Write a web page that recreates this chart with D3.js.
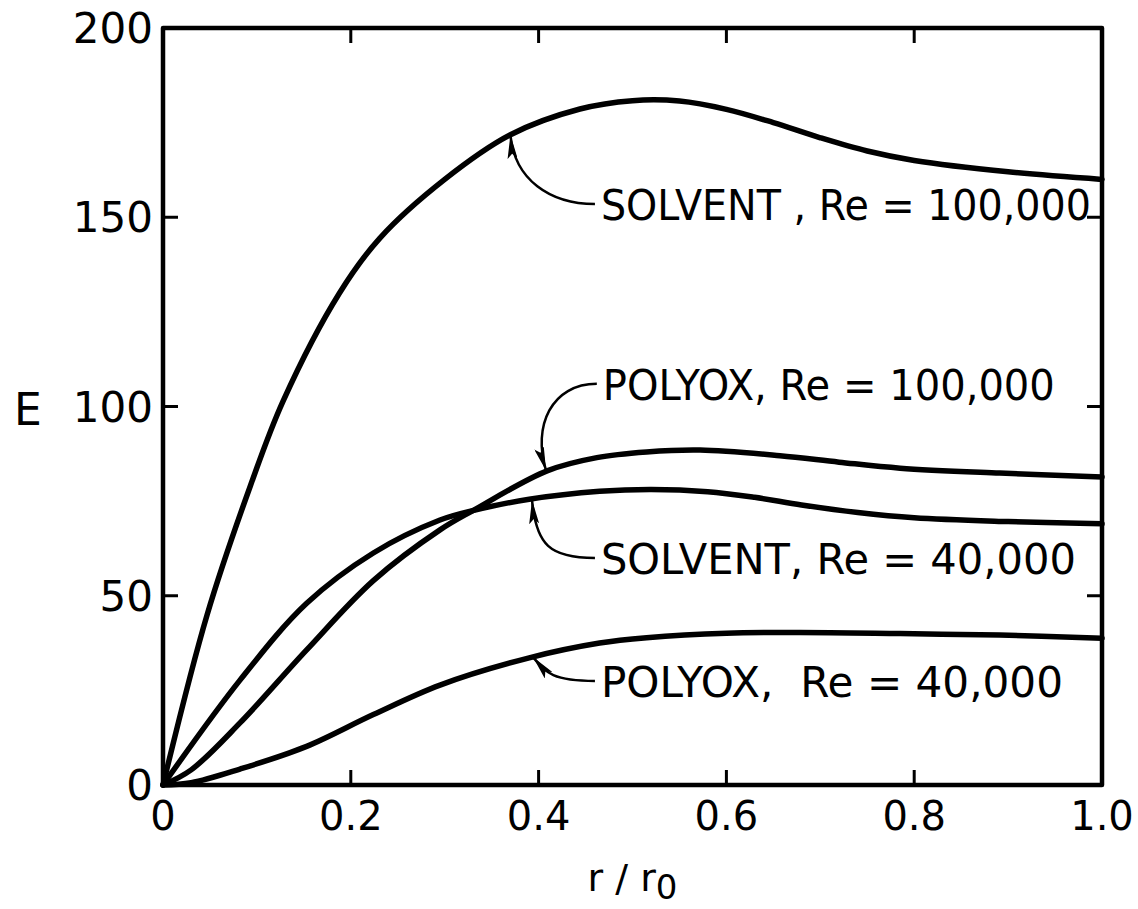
<!DOCTYPE html>
<html>
<head>
<meta charset="utf-8">
<script src="https://cdn.jsdelivr.net/npm/d3@7"></script>
<style>
  html, body { margin: 0; padding: 0; background: #fff; }
  svg { display: block; }
</style>
</head>
<body>
<div id="chart"></div>
<script>
// Data: E versus r/r0
const solvent100kR = [0, 0.047, 0.093, 0.128, 0.188, 0.231, 0.3, 0.37, 0.444, 0.5, 0.55, 0.6, 0.65, 0.7, 0.75, 0.8, 0.9, 1.0];
const solvent100kE = [0, 45, 79, 101.5, 130, 144.5, 160, 171.8, 178.6, 180.8, 180.7, 178.5, 175, 171, 167.5, 165, 162, 160];

const polyox100kR = [0, 0.03, 0.082, 0.153, 0.224, 0.295, 0.33, 0.409, 0.462, 0.515, 0.572, 0.657, 0.72, 0.785, 0.891, 1.0];
const polyox100kE = [0, 4, 16.4, 35.7, 54, 67.4, 72.5, 83, 86.5, 88, 88.5, 87, 85.3, 83.7, 82.4, 81.4];

const solvent40kR = [0, 0.082, 0.153, 0.224, 0.295, 0.33, 0.39, 0.465, 0.52, 0.58, 0.63, 0.68, 0.74, 0.8, 0.9, 1.0];
const solvent40kE = [0, 27.7, 48, 61.3, 70, 72.5, 75.5, 77.6, 78.1, 77.5, 76, 74, 72, 70.6, 69.6, 69];

const polyox40kR = [0, 0.03, 0.082, 0.153, 0.224, 0.295, 0.39, 0.465, 0.515, 0.6, 0.678, 0.785, 0.891, 1.0];
const polyox40kE = [0, 0.6, 4.2, 10.2, 18.6, 26.4, 33.6, 37.5, 38.9, 40.1, 40.3, 40, 39.6, 38.8];

const xTicks = [0, 0.2, 0.4, 0.6, 0.8, 1.0];
const xTickLabels = ['0', '0.2', '0.4', '0.6', '0.8', '1.0'];
const yTicks = [0, 50, 100, 150, 200];
const yTickLabels = ['0', '50', '100', '150', '200'];

// Annotation labels: text, label start (r, E), arrow tip (r, E)
const labelTexts = ['SOLVENT , Re = 100,000', 'POLYOX, Re = 100,000', 'SOLVENT, Re = 40,000', 'POLYOX,  Re = 40,000'];
const labelStartR = [0.46, 0.462, 0.46, 0.46];
const labelStartE = [153.5, 106, 60, 27.5];
const arrowTipR = [0.37, 0.408, 0.393, 0.394];
const arrowTipE = [171.8, 83, 75.3, 33.8];

const width = 1138;
const height = 909;
const margin = { top: 28, right: 36, bottom: 124, left: 163 };
const fontFamily = '"DejaVu Sans", sans-serif';

const svg = d3.select('#chart')
    .append('svg')
    .attr('width', width)
    .attr('height', height);

svg.append('rect')
    .attr('width', width)
    .attr('height', height)
    .attr('fill', '#fff');

const x = d3.scaleLinear().domain([0, 1]).range([margin.left, width - margin.right]);
const y = d3.scaleLinear().domain([0, 200]).range([height - margin.bottom, margin.top]);

// arrow marker
svg.append('defs').append('marker')
    .attr('id', 'arrow')
    .attr('viewBox', '0 0 24 10')
    .attr('refX', 24)
    .attr('refY', 5)
    .attr('markerWidth', 24)
    .attr('markerHeight', 10)
    .attr('markerUnits', 'userSpaceOnUse')
    .attr('orient', 'auto')
    .append('path')
    .attr('d', 'M0,0 L24,5 L0,10 L5,5 Z')
    .attr('fill', '#000');

// curves
const series = [
    { r: solvent100kR, e: solvent100kE },
    { r: polyox100kR, e: polyox100kE },
    { r: solvent40kR, e: solvent40kE },
    { r: polyox40kR, e: polyox40kE }
];

const line = d3.line()
    .x(d => x(d[0]))
    .y(d => y(d[1]))
    .curve(d3.curveCatmullRom.alpha(0.5));

svg.append('g')
    .selectAll('path')
    .data(series)
    .enter()
    .append('path')
    .attr('d', s => line(s.r.map((r, i) => [r, s.e[i]])))
    .attr('fill', 'none')
    .attr('stroke', '#000')
    .attr('stroke-width', 5.5)
    .attr('stroke-linecap', 'round');

// frame
const x0 = x(0), x1 = x(1), y0 = y(0), y1 = y(200);
svg.append('rect')
    .attr('x', x0)
    .attr('y', y1)
    .attr('width', x1 - x0)
    .attr('height', y0 - y1)
    .attr('fill', 'none')
    .attr('stroke', '#000')
    .attr('stroke-width', 4.5)
    .attr('stroke-linejoin', 'round');

// inward ticks
const tickLen = 15;
const ticks = svg.append('g').attr('stroke', '#000').attr('stroke-width', 3);
xTicks.slice(1, -1).forEach(t => {
    ticks.append('line').attr('x1', x(t)).attr('x2', x(t)).attr('y1', y0).attr('y2', y0 - tickLen);
    ticks.append('line').attr('x1', x(t)).attr('x2', x(t)).attr('y1', y1).attr('y2', y1 + tickLen);
});
yTicks.slice(1, -1).forEach(t => {
    ticks.append('line').attr('x1', x0).attr('x2', x0 + tickLen).attr('y1', y(t)).attr('y2', y(t));
    ticks.append('line').attr('x1', x1).attr('x2', x1 - tickLen).attr('y1', y(t)).attr('y2', y(t));
});

// tick labels
svg.append('g')
    .selectAll('text')
    .data(xTicks)
    .enter()
    .append('text')
    .attr('x', d => x(d))
    .attr('y', y0 + 45)
    .attr('text-anchor', 'middle')
    .attr('font-family', fontFamily)
    .attr('font-size', 40)
    .text((d, i) => xTickLabels[i]);

svg.append('g')
    .selectAll('text')
    .data(yTicks)
    .enter()
    .append('text')
    .attr('x', x0 - 10)
    .attr('y', d => y(d) + 15)
    .attr('text-anchor', 'end')
    .attr('font-family', fontFamily)
    .attr('font-size', 42)
    .text((d, i) => yTickLabels[i]);

// axis titles
svg.append('text')
    .attr('x', 14)
    .attr('y', y(100) + 18)
    .attr('font-family', fontFamily)
    .attr('font-size', 44)
    .text('E');

const xTitle = svg.append('text')
    .attr('x', (x0 + x1) / 2)
    .attr('y', y0 + 106)
    .attr('text-anchor', 'middle')
    .attr('font-family', fontFamily)
    .attr('font-size', 38);
xTitle.append('tspan').text('r / r');
xTitle.append('tspan').attr('dy', 8).attr('font-size', 34).text('0');

// annotations
labelTexts.forEach((txt, i) => {
    const sx = x(labelStartR[i]), sy = y(labelStartE[i]);
    const tx = x(arrowTipR[i]), ty = y(arrowTipE[i]);
    const c1 = [sx - 45, sy];
    const c2 = ty < sy ? [tx + 4, ty + 45] : [tx - 14, ty - 45];
    if (i === 3) { c2[0] = tx + 12; c2[1] = ty + 14; }
    svg.append('path')
        .attr('d', `M${sx},${sy} C${c1[0]},${c1[1]} ${c2[0]},${c2[1]} ${tx},${ty}`)
        .attr('fill', 'none')
        .attr('stroke', '#000')
        .attr('stroke-width', 2.5)
        .attr('marker-end', 'url(#arrow)');
});

const labelWidths = [490, 452, 475, 462];
svg.append('g')
    .selectAll('text')
    .data(labelTexts)
    .enter()
    .append('text')
    .attr('x', (d, i) => x(labelStartR[i]) + 6)
    .attr('y', (d, i) => y(labelStartE[i]) + 16)
    .attr('font-family', fontFamily)
    .attr('font-size', 42)
    .attr('textLength', (d, i) => labelWidths[i])
    .attr('lengthAdjust', 'spacingAndGlyphs')
    .style('white-space', 'pre')
    .text(d => d);
</script>
</body>
</html>
